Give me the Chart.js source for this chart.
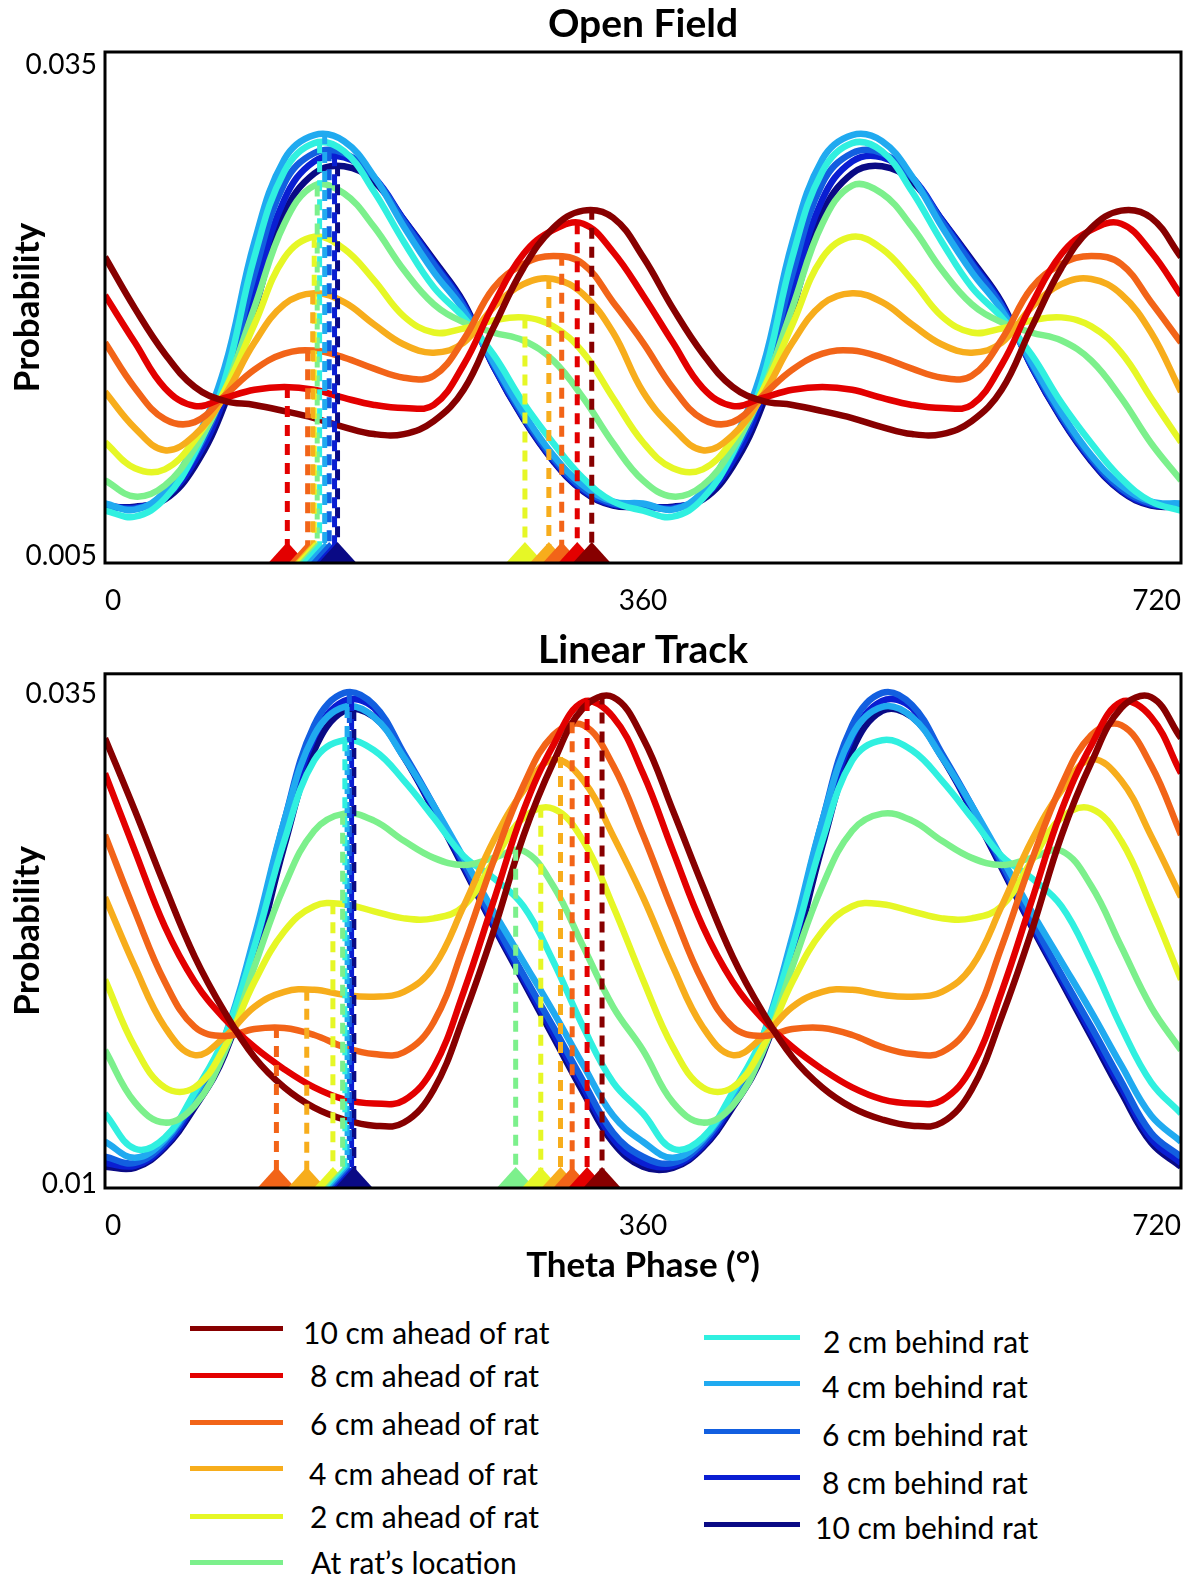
<!DOCTYPE html>
<html>
<head>
<meta charset="utf-8">
<script src="https://cdn.jsdelivr.net/npm/chart.js@4.4.1/dist/chart.umd.min.js"></script>
<style>
  body { margin: 0; background: #fff; }
  #page { position: relative; width: 1194px; height: 1579px; font-family: Lato, sans-serif; overflow: hidden; }
  .plot { position: absolute; left: 0; width: 1194px; }
  .key-line { position: absolute; height: 5px; }
  .key-text { position: absolute; font-size: 30px; line-height: 36px; color: #000; white-space: nowrap; }
</style>
</head>
<body>
<div id="page">
  <div class="plot" style="top:0;height:615px"><canvas id="openField"></canvas></div>
  <div class="plot" style="top:615px;height:675px"><canvas id="linearTrack"></canvas></div>
</div>
<script>
// theta phase in degrees, two cycles
const phases = [0, 20, 40, 60, 80, 100, 120, 140, 160, 180, 200, 220, 240, 260, 280, 300, 320, 340, 360,
  380, 400, 420, 440, 460, 480, 500, 520, 540, 560, 580, 600, 620, 640, 660, 680, 700, 720]
const xTicks = [0, 360, 720]

const seriesNames = ['10 cm ahead of rat', '8 cm ahead of rat', '6 cm ahead of rat', '4 cm ahead of rat',
  '2 cm ahead of rat', 'At rat\u2019s location', '2 cm behind rat', '4 cm behind rat', '6 cm behind rat',
  '8 cm behind rat', '10 cm behind rat']
const seriesColors = ['#870000', '#e30000', '#f26418', '#f7ad1c', '#e6f726', '#7cf08c',
  '#30f0e0', '#20aaf0', '#125fe0', '#0a1ed2', '#0a0a85']

// Open Field
const ofYTicks = [0.005, 0.035]
const ofYLabels = ['0.005', '0.035']
const of10a = [0.02297, 0.01995, 0.01729, 0.01534, 0.01452, 0.01428, 0.01392, 0.01351, 0.01298, 0.01257, 0.01257, 0.01333, 0.01517, 0.01883, 0.02232, 0.02468, 0.02569, 0.02527, 0.02297,
  0.01995, 0.01729, 0.01534, 0.01452, 0.01428, 0.01392, 0.01351, 0.01298, 0.01257, 0.01257, 0.01333, 0.01517, 0.01883, 0.02232, 0.02468, 0.02569, 0.02527, 0.02297]
const of8a = [0.02072, 0.01794, 0.01528, 0.01422, 0.01469, 0.01517, 0.01534, 0.01517, 0.01469, 0.01428, 0.01410, 0.01428, 0.01664, 0.02019, 0.02314, 0.02456, 0.02492, 0.02326, 0.02072,
  0.01794, 0.01528, 0.01422, 0.01469, 0.01517, 0.01534, 0.01517, 0.01469, 0.01428, 0.01410, 0.01428, 0.01664, 0.02019, 0.02314, 0.02456, 0.02492, 0.02326, 0.02072]
const of6a = [0.01794, 0.01528, 0.01345, 0.01327, 0.01481, 0.01635, 0.01729, 0.01747, 0.01706, 0.01641, 0.01588, 0.01599, 0.01812, 0.02114, 0.02255, 0.02303, 0.02255, 0.02031, 0.01794,
  0.01528, 0.01345, 0.01327, 0.01481, 0.01635, 0.01729, 0.01747, 0.01706, 0.01641, 0.01588, 0.01599, 0.01812, 0.02114, 0.02255, 0.02303, 0.02255, 0.02031, 0.01794]
const of4a = [0.01505, 0.01292, 0.01162, 0.01251, 0.01481, 0.01794, 0.02019, 0.02084, 0.02031, 0.01901, 0.01783, 0.01735, 0.01794, 0.02001, 0.02137, 0.02167, 0.02078, 0.01853, 0.01505,
  0.01292, 0.01162, 0.01251, 0.01481, 0.01794, 0.02019, 0.02084, 0.02031, 0.01901, 0.01783, 0.01735, 0.01794, 0.02001, 0.02137, 0.02167, 0.02078, 0.01853, 0.01505]
const of2a = [0.01209, 0.01056, 0.01050, 0.01221, 0.01511, 0.01901, 0.02291, 0.02415, 0.02344, 0.02161, 0.01948, 0.01853, 0.01877, 0.01924, 0.01942, 0.01889, 0.01735, 0.01469, 0.01209,
  0.01056, 0.01050, 0.01221, 0.01511, 0.01901, 0.02291, 0.02415, 0.02344, 0.02161, 0.01948, 0.01853, 0.01877, 0.01924, 0.01942, 0.01889, 0.01735, 0.01469, 0.01209]
const ofAt = [0.00985, 0.00890, 0.00955, 0.01174, 0.01511, 0.02001, 0.02492, 0.02716, 0.02669, 0.02474, 0.02220, 0.02019, 0.01913, 0.01853, 0.01806, 0.01688, 0.01469, 0.01203, 0.00985,
  0.00890, 0.00955, 0.01174, 0.01511, 0.02001, 0.02492, 0.02716, 0.02669, 0.02474, 0.02220, 0.02019, 0.01913, 0.01853, 0.01806, 0.01688, 0.01469, 0.01203, 0.00985]
const of2b = [0.00807, 0.00772, 0.00878, 0.01144, 0.01570, 0.02297, 0.02799, 0.02965, 0.02917, 0.02681, 0.02385, 0.02119, 0.01942, 0.01723, 0.01440, 0.01203, 0.00997, 0.00861, 0.00807,
  0.00772, 0.00878, 0.01144, 0.01570, 0.02297, 0.02799, 0.02965, 0.02917, 0.02681, 0.02385, 0.02119, 0.01942, 0.01723, 0.01440, 0.01203, 0.00997, 0.00861, 0.00807]
const of4b = [0.00849, 0.00813, 0.00920, 0.01203, 0.01647, 0.02385, 0.02870, 0.03012, 0.02976, 0.02770, 0.02474, 0.02208, 0.01984, 0.01676, 0.01381, 0.01132, 0.00955, 0.00861, 0.00849,
  0.00813, 0.00920, 0.01203, 0.01647, 0.02385, 0.02870, 0.03012, 0.02976, 0.02770, 0.02474, 0.02208, 0.01984, 0.01676, 0.01381, 0.01132, 0.00955, 0.00861, 0.00849]
const of6b = [0.00837, 0.00819, 0.00896, 0.01132, 0.01528, 0.02196, 0.02728, 0.02906, 0.02906, 0.02764, 0.02504, 0.02255, 0.02007, 0.01664, 0.01363, 0.01115, 0.00937, 0.00849, 0.00837,
  0.00819, 0.00896, 0.01132, 0.01528, 0.02196, 0.02728, 0.02906, 0.02906, 0.02764, 0.02504, 0.02255, 0.02007, 0.01664, 0.01363, 0.01115, 0.00937, 0.00849, 0.00837]
const of8b = [0.00837, 0.00825, 0.00884, 0.01097, 0.01475, 0.02090, 0.02634, 0.02858, 0.02882, 0.02764, 0.02515, 0.02267, 0.02019, 0.01653, 0.01351, 0.01103, 0.00926, 0.00843, 0.00837,
  0.00825, 0.00884, 0.01097, 0.01475, 0.02090, 0.02634, 0.02858, 0.02882, 0.02764, 0.02515, 0.02267, 0.02019, 0.01653, 0.01351, 0.01103, 0.00926, 0.00843, 0.00837]
const of10b = [0.00831, 0.00831, 0.00872, 0.01067, 0.01428, 0.01984, 0.02551, 0.02787, 0.02829, 0.02740, 0.02515, 0.02279, 0.02031, 0.01653, 0.01345, 0.01097, 0.00920, 0.00837, 0.00831,
  0.00831, 0.00872, 0.01067, 0.01428, 0.01984, 0.02551, 0.02787, 0.02829, 0.02740, 0.02515, 0.02279, 0.02031, 0.01653, 0.01345, 0.01097, 0.00920, 0.00837, 0.00831]
// peak phase / probability of each curve in the first cycle (index into seriesNames)
const ofPeakSeries = [1, 2, 3, 4, 5, 6, 7, 8, 9, 10, 4, 3, 2, 1, 0]
const ofPeakPhase = [122, 135.6, 139, 140, 142, 143.6, 147, 150, 153.6, 155.6, 281, 297, 305.6, 316, 325.7]
const ofPeakValue = [0.01534, 0.01749, 0.02084, 0.02415, 0.02716, 0.02970, 0.03024, 0.02923, 0.02894, 0.02835,
  0.01942, 0.02173, 0.02309, 0.02495, 0.02580]

// Linear Track
const ltYTicks = [0.01, 0.035]
const ltYLabels = ['0.01', '0.035']
const lt10a = [0.03187, 0.02835, 0.02468, 0.02125, 0.01856, 0.01636, 0.01489, 0.01391, 0.01333, 0.01303, 0.01318, 0.01479, 0.01832, 0.02248, 0.02712, 0.03069, 0.03334, 0.03387, 0.03187,
  0.02835, 0.02468, 0.02125, 0.01856, 0.01636, 0.01489, 0.01391, 0.01333, 0.01303, 0.01318, 0.01479, 0.01832, 0.02248, 0.02712, 0.03069, 0.03334, 0.03387, 0.03187]
const lt8a = [0.03016, 0.02639, 0.02272, 0.02003, 0.01822, 0.01685, 0.01577, 0.01489, 0.01431, 0.01411, 0.01426, 0.01587, 0.01954, 0.02394, 0.02835, 0.03153, 0.03363, 0.03290, 0.03016,
  0.02639, 0.02272, 0.02003, 0.01822, 0.01685, 0.01577, 0.01489, 0.01431, 0.01411, 0.01426, 0.01587, 0.01954, 0.02394, 0.02835, 0.03153, 0.03363, 0.03290, 0.03016]
const lt6a = [0.02717, 0.02345, 0.02003, 0.01783, 0.01739, 0.01773, 0.01778, 0.01744, 0.01685, 0.01651, 0.01660, 0.01807, 0.02174, 0.02590, 0.02957, 0.03202, 0.03250, 0.03055, 0.02717,
  0.02345, 0.02003, 0.01783, 0.01739, 0.01773, 0.01778, 0.01744, 0.01685, 0.01651, 0.01660, 0.01807, 0.02174, 0.02590, 0.02957, 0.03202, 0.03250, 0.03055, 0.02717]
const lt4a = [0.02414, 0.02076, 0.01783, 0.01646, 0.01734, 0.01881, 0.01954, 0.01964, 0.01939, 0.01930, 0.01954, 0.02076, 0.02370, 0.02688, 0.02932, 0.03084, 0.02981, 0.02712, 0.02414,
  0.02076, 0.01783, 0.01646, 0.01734, 0.01881, 0.01954, 0.01964, 0.01939, 0.01930, 0.01954, 0.02076, 0.02370, 0.02688, 0.02932, 0.03084, 0.02981, 0.02712, 0.02414]
const lt2a = [0.02013, 0.01685, 0.01489, 0.01489, 0.01685, 0.02003, 0.02248, 0.02370, 0.02380, 0.02345, 0.02311, 0.02311, 0.02370, 0.02590, 0.02800, 0.02844, 0.02688, 0.02370, 0.02013,
  0.01685, 0.01489, 0.01489, 0.01685, 0.02003, 0.02248, 0.02370, 0.02380, 0.02345, 0.02311, 0.02311, 0.02370, 0.02590, 0.02800, 0.02844, 0.02688, 0.02370, 0.02013]
const ltAt = [0.01670, 0.01416, 0.01318, 0.01401, 0.01660, 0.02076, 0.02468, 0.02737, 0.02820, 0.02786, 0.02688, 0.02605, 0.02570, 0.02605, 0.02639, 0.02468, 0.02174, 0.01881, 0.01670,
  0.01416, 0.01318, 0.01401, 0.01660, 0.02076, 0.02468, 0.02737, 0.02820, 0.02786, 0.02688, 0.02605, 0.02570, 0.02605, 0.02639, 0.02468, 0.02174, 0.01881, 0.01670]
const lt2b = [0.01362, 0.01191, 0.01245, 0.01465, 0.01734, 0.02174, 0.02688, 0.03079, 0.03177, 0.03128, 0.02981, 0.02800, 0.02614, 0.02507, 0.02370, 0.02101, 0.01783, 0.01514, 0.01362,
  0.01191, 0.01245, 0.01465, 0.01734, 0.02174, 0.02688, 0.03079, 0.03177, 0.03128, 0.02981, 0.02800, 0.02614, 0.02507, 0.02370, 0.02101, 0.01783, 0.01514, 0.01362]
const lt4b = [0.01225, 0.01147, 0.01235, 0.01450, 0.01734, 0.02223, 0.02786, 0.03202, 0.03339, 0.03290, 0.03094, 0.02859, 0.02605, 0.02345, 0.02101, 0.01856, 0.01597, 0.01352, 0.01225,
  0.01147, 0.01235, 0.01450, 0.01734, 0.02223, 0.02786, 0.03202, 0.03339, 0.03290, 0.03094, 0.02859, 0.02605, 0.02345, 0.02101, 0.01856, 0.01597, 0.01352, 0.01225]
const lt6b = [0.01152, 0.01122, 0.01220, 0.01431, 0.01705, 0.02199, 0.02786, 0.03250, 0.03407, 0.03348, 0.03113, 0.02859, 0.02580, 0.02301, 0.02037, 0.01783, 0.01519, 0.01269, 0.01152,
  0.01122, 0.01220, 0.01431, 0.01705, 0.02199, 0.02786, 0.03250, 0.03407, 0.03348, 0.03113, 0.02859, 0.02580, 0.02301, 0.02037, 0.01783, 0.01519, 0.01269, 0.01152]
const lt8b = [0.01122, 0.01108, 0.01205, 0.01411, 0.01675, 0.02150, 0.02722, 0.03192, 0.03368, 0.03334, 0.03104, 0.02844, 0.02566, 0.02282, 0.02018, 0.01753, 0.01489, 0.01240, 0.01122,
  0.01108, 0.01205, 0.01411, 0.01675, 0.02150, 0.02722, 0.03192, 0.03368, 0.03334, 0.03104, 0.02844, 0.02566, 0.02282, 0.02018, 0.01753, 0.01489, 0.01240, 0.01122]
const lt10b = [0.01103, 0.01098, 0.01196, 0.01391, 0.01646, 0.02101, 0.02663, 0.03128, 0.03319, 0.03290, 0.03094, 0.02835, 0.02556, 0.02272, 0.02003, 0.01734, 0.01465, 0.01220, 0.01103,
  0.01098, 0.01196, 0.01391, 0.01646, 0.02101, 0.02663, 0.03128, 0.03319, 0.03290, 0.03094, 0.02835, 0.02556, 0.02272, 0.02003, 0.01734, 0.01465, 0.01220, 0.01103]
const ltPeakSeries = [2, 3, 4, 5, 6, 7, 8, 9, 10, 5, 4, 3, 2, 1, 0]
const ltPeakPhase = [114.7, 135, 152.5, 159, 160.5, 162, 163.5, 165, 166.5, 274.8, 291.6, 304.8, 312.6, 322.6, 332.6]
const ltPeakValue = [0.01783, 0.01964, 0.02385, 0.02820, 0.03177, 0.03339, 0.03407, 0.03373, 0.03324,
  0.02644, 0.02854, 0.03096, 0.03265, 0.03373, 0.03404]

Chart.defaults.font.family = 'Lato'
Chart.defaults.color = '#000'

// black box round the plot area
const frame = {
  id: 'frame',
  afterDraw: function (chart) {
    var a = chart.chartArea
    var ctx = chart.ctx
    ctx.save()
    ctx.strokeStyle = '#000'
    ctx.lineWidth = 3
    ctx.strokeRect(a.left, a.top, a.right - a.left, a.bottom - a.top)
    ctx.restore()
  }
}

// coloured triangles on the x axis under each peak
const peakMarks = {
  id: 'peakMarks',
  afterDatasetsDraw: function (chart, args, opts) {
    var ctx = chart.ctx
    var x = chart.scales.x
    var base = chart.chartArea.bottom
    var idx = opts.phase.map(function (p, i) { return i })
    idx.sort(function (a, b) { return opts.phase[a] - opts.phase[b] })
    ctx.save()
    idx.forEach(function (i) {
      var px = x.getPixelForValue(opts.phase[i])
      ctx.beginPath()
      ctx.moveTo(px - 19, base)
      ctx.lineTo(px, base - 21)
      ctx.lineTo(px + 19, base)
      ctx.closePath()
      ctx.fillStyle = seriesColors[opts.series[i]]
      ctx.fill()
    })
    ctx.restore()
  }
}

// y tick labels sit just inside the ends of the axis
const edgeLabels = {
  id: 'edgeLabels',
  afterDraw: function (chart, args, opts) {
    var ctx = chart.ctx
    var y = chart.scales.y
    ctx.save()
    ctx.fillStyle = '#000'
    ctx.font = '28px Lato'
    ctx.textAlign = 'right'
    ctx.textBaseline = 'middle'
    opts.values.forEach(function (v, i) {
      ctx.fillText(opts.labels[i], chart.chartArea.left - 8, y.getPixelForValue(v) + opts.shift[i])
    })
    ctx.restore()
  }
}

function makeChart(canvasId, title, series, yTicks, yLabels, peakSeries, peakPhase, peakValue, cfg) {
  var datasets = []
  for (var i = 0; i < series.length; i++) {
    datasets.push({
      label: seriesNames[i],
      data: phases.map(function (p, j) { return { x: p, y: series[i][j] } }),
      borderColor: seriesColors[i],
      borderWidth: 6.5,
      pointRadius: 0,
      tension: 0.4,
      clip: 0,
      order: 1
    })
  }
  for (var k = 0; k < peakPhase.length; k++) {
    datasets.push({
      label: seriesNames[peakSeries[k]] + ' peak',
      data: [{ x: peakPhase[k], y: peakValue[k] }, { x: peakPhase[k], y: yTicks[0] }],
      borderColor: seriesColors[peakSeries[k]],
      borderWidth: 5,
      borderDash: [11, 8],
      pointRadius: 0,
      clip: 0,
      order: 0
    })
  }

  return new Chart(document.getElementById(canvasId), {
    type: 'line',
    data: { datasets: datasets },
    plugins: [peakMarks, frame, edgeLabels],
    options: {
      responsive: true,
      maintainAspectRatio: false,
      animation: false,
      layout: { padding: { left: 0, right: 10, top: 0, bottom: 0 } },
      plugins: {
        legend: { display: false },
        tooltip: { enabled: false },
        title: {
          display: true,
          fullSize: false,
          text: title,
          color: '#000',
          font: { size: 39, weight: 'bold', lineHeight: 1.2 },
          padding: cfg.titlePadding
        },
        peakMarks: { phase: peakPhase, series: peakSeries },
        edgeLabels: { values: yTicks, labels: yLabels, shift: cfg.labelShift }
      },
      scales: {
        x: {
          type: 'linear',
          min: 0,
          max: 720,
          grid: { display: false },
          border: { display: false },
          afterBuildTicks: function (axis) {
            axis.ticks = xTicks.map(function (v) { return { value: v } })
          },
          ticks: { align: 'inner', padding: 13, maxRotation: 0, font: { size: 28, lineHeight: 1.2 } },
          title: {
            display: cfg.xTitle,
            text: 'Theta Phase (\u00b0)',
            font: { size: 35, weight: 'bold', lineHeight: 1.2 },
            padding: { top: 0, bottom: 3.5 }
          },
          afterFit: function (axis) { axis.height = cfg.xHeight }
        },
        y: {
          min: yTicks[0],
          max: yTicks[1],
          grid: { display: false },
          border: { display: false },
          ticks: { display: false },
          title: {
            display: true,
            text: 'Probability',
            font: { size: 35, weight: 'bold', lineHeight: 1.2 },
            padding: { top: 7, bottom: 0 }
          },
          afterFit: function (axis) { axis.width = 105 }
        }
      }
    }
  })
}

makeChart('openField', 'Open Field',
  [of10a, of8a, of6a, of4a, of2a, ofAt, of2b, of4b, of6b, of8b, of10b],
  ofYTicks, ofYLabels, ofPeakSeries, ofPeakPhase, ofPeakValue,
  { titlePadding: { top: 1, bottom: 4.2 }, xHeight: 52, xTitle: false, labelShift: [-7, 13] })

makeChart('linearTrack', 'Linear Track',
  [lt10a, lt8a, lt6a, lt4a, lt2a, ltAt, lt2b, lt4b, lt6b, lt8b, lt10b],
  ltYTicks, ltYLabels, ltPeakSeries, ltPeakPhase, ltPeakValue,
  { titlePadding: { top: 12, bottom: 0 }, xHeight: 102, xTitle: true, labelShift: [-4, 20] })

// legend in two columns under the charts
var keyCols = [
  { first: 0, count: 6, lineX: 190, lineW: 93, textX: [303, 310, 310, 309, 310, 311],
    lineY: [1328, 1375, 1422, 1468, 1516, 1562], textY: [1332, 1375, 1423, 1473, 1516, 1562] },
  { first: 6, count: 5, lineX: 704, lineW: 96, textX: [823, 822, 822, 822, 815],
    lineY: [1337, 1383, 1431, 1477, 1524], textY: [1341, 1386, 1434, 1482, 1527] }
]
var page = document.getElementById('page')
keyCols.forEach(function (col) {
  for (var r = 0; r < col.count; r++) {
    var n = col.first + r
    var line = document.createElement('div')
    line.className = 'key-line'
    line.style.left = col.lineX + 'px'
    line.style.width = col.lineW + 'px'
    line.style.top = (col.lineY[r] - 2.5) + 'px'
    line.style.background = seriesColors[n]
    page.appendChild(line)

    var text = document.createElement('div')
    text.className = 'key-text'
    text.style.left = col.textX[r] + 'px'
    text.style.top = (col.textY[r] - 18) + 'px'
    text.textContent = seriesNames[n]
    page.appendChild(text)
  }
})
</script>
</body>
</html>
